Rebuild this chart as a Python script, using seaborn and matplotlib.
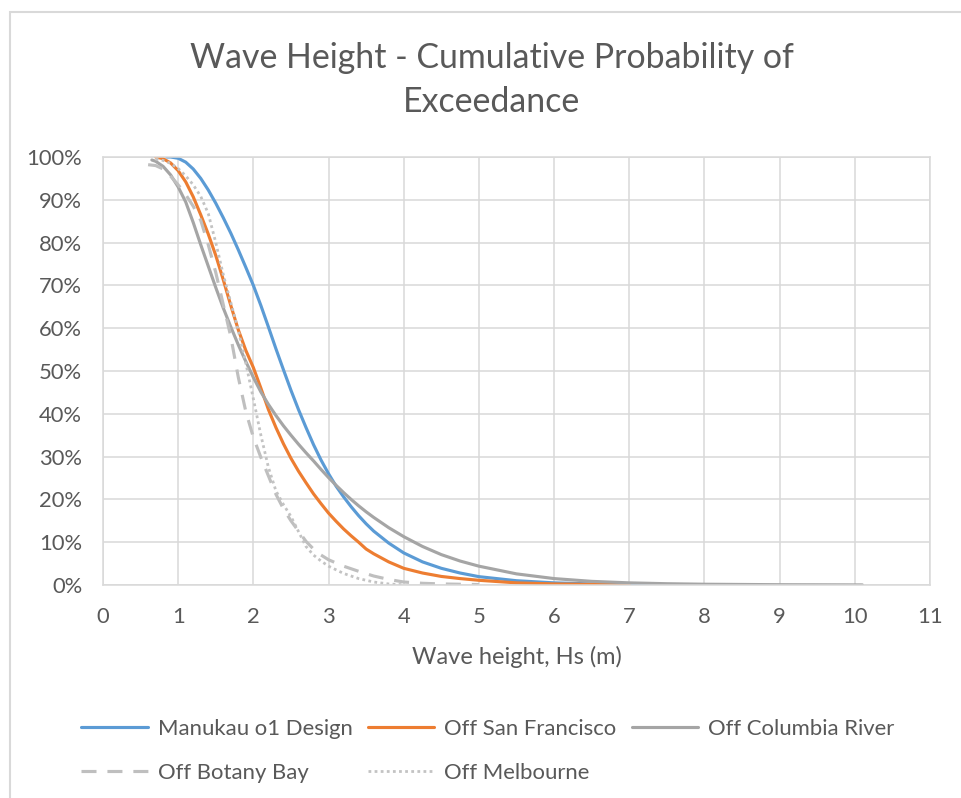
import matplotlib
matplotlib.use("Agg")
import matplotlib.pyplot as plt
from matplotlib.ticker import PercentFormatter
from matplotlib.patches import Rectangle
import pandas as pd
import seaborn as sns

# Significant wave height Hs (m) and probability of exceedance (%)
manukau_hs = [0.85, 0.9, 1.0, 1.1, 1.2, 1.3, 1.4, 1.5, 1.6, 1.7, 1.8, 1.9, 2.0, 2.1,
              2.2, 2.3, 2.4, 2.5, 2.6, 2.7, 2.8, 2.9, 3.0, 3.1, 3.2, 3.3, 3.4, 3.5,
              3.6, 3.8, 4.0, 4.25, 4.5, 4.75, 5.0, 5.5, 6.0, 6.5, 7.0, 8.0]
manukau_p = [100, 100, 99.7, 98.8, 97.2, 95.0, 92.3, 89.2, 85.8, 82.2, 78.3, 74.2, 70.0, 65.3,
             60.3, 55.2, 50.3, 45.5, 41.0, 36.8, 32.8, 29.2, 26.0, 23.1, 20.6, 18.3, 16.2, 14.3,
             12.6, 9.8, 7.5, 5.4, 3.9, 2.8, 1.95, 1.0, 0.5, 0.25, 0.12, 0.03]

sanfran_hs = [0.7, 0.8, 0.9, 1.0, 1.1, 1.2, 1.3, 1.4, 1.5, 1.6, 1.7, 1.8, 1.9, 2.0,
              2.1, 2.2, 2.3, 2.4, 2.5, 2.6, 2.7, 2.8, 2.9, 3.0, 3.1, 3.2, 3.3, 3.4,
              3.5, 3.6, 3.8, 4.0, 4.25, 4.5, 4.75, 5.0, 5.5, 6.0, 7.0]
sanfran_p = [100, 99.6, 98.6, 96.8, 94.2, 90.7, 86.5, 82.0, 77.0, 71.3, 65.3, 59.6, 54.8, 50.8,
             46.0, 41.0, 36.8, 33.0, 29.6, 26.6, 23.9, 21.3, 19.0, 16.8, 14.9, 13.1, 11.5, 10.0,
             8.4, 7.3, 5.4, 3.9, 2.8, 2.0, 1.5, 1.1, 0.5, 0.25, 0.05]

columbia_hs = [0.65, 0.7, 0.8, 0.9, 1.0, 1.1, 1.2, 1.3, 1.4, 1.5, 1.6, 1.7, 1.8, 1.9,
               2.0, 2.1, 2.2, 2.3, 2.4, 2.5, 2.6, 2.7, 2.8, 2.9, 3.0, 3.1, 3.2, 3.3,
               3.4, 3.5, 3.6, 3.8, 4.0, 4.25, 4.5, 4.75, 5.0, 5.5, 6.0, 6.5, 7.0, 7.5,
               8.0, 9.0, 10.1]
columbia_p = [99.3, 99.0, 97.8, 95.8, 93.0, 89.5, 84.7, 79.5, 74.5, 69.5, 64.7, 60.3, 56.1, 52.2,
              48.5, 45.1, 42.2, 39.6, 37.2, 35.0, 32.9, 30.9, 29.0, 27.0, 25.1, 23.3, 21.6, 20.0,
              18.5, 17.1, 15.8, 13.4, 11.3, 9.0, 7.1, 5.6, 4.4, 2.6, 1.5, 0.85, 0.5, 0.3,
              0.18, 0.07, 0.02]

botany_hs = [0.6, 0.7, 0.8, 0.9, 1.0, 1.1, 1.2, 1.3, 1.4, 1.5, 1.6, 1.7, 1.8, 1.9,
             2.0, 2.1, 2.2, 2.3, 2.4, 2.5, 2.6, 2.7, 2.8, 2.9, 3.0, 3.2, 3.4, 3.6,
             3.8, 4.0, 4.25, 4.5, 5.0]
botany_p = [98.2, 98.0, 97.2, 95.5, 93.5, 91.2, 88.5, 85.2, 79.5, 73.0, 65.5, 58.0, 48.5, 40.5,
            34.5, 29.8, 25.5, 21.2, 17.8, 15.0, 12.6, 10.2, 8.4, 7.0, 5.9, 4.4, 3.2, 2.1,
            1.3, 0.7, 0.4, 0.25, 0.1]

melbourne_hs = [0.7, 0.8, 0.9, 1.0, 1.1, 1.2, 1.3, 1.4, 1.5, 1.6, 1.7, 1.8, 1.9, 2.0,
                2.1, 2.2, 2.3, 2.4, 2.5, 2.6, 2.7, 2.8, 2.9, 3.0, 3.2, 3.4, 3.6, 3.8, 4.0]
melbourne_p = [99.5, 99.2, 98.5, 97.3, 95.6, 93.5, 90.8, 86.8, 80.0, 72.5, 66.0, 59.5, 51.8, 43.5,
               35.0, 27.5, 22.0, 18.8, 16.0, 12.5, 9.0, 7.0, 5.6, 4.4, 2.7, 1.5, 0.7, 0.25, 0.05]

series_names = ["Manukau o1 Design", "Off San Francisco", "Off Columbia River",
                "Off Botany Bay", "Off Melbourne"]
x_ticks = list(range(0, 12))
y_ticks = list(range(0, 101, 10))

frames = []
for name, hs, p in zip(series_names,
                       [manukau_hs, sanfran_hs, columbia_hs, botany_hs, melbourne_hs],
                       [manukau_p, sanfran_p, columbia_p, botany_p, melbourne_p]):
    frames.append(pd.DataFrame({"Hs": hs, "P": p, "series": name}))
df = pd.concat(frames, ignore_index=True)

sns.set_theme(style="white")
plt.rcParams["font.family"] = ["Lato", "DejaVu Sans"]

styles = {
    "Manukau o1 Design": dict(color="#5B9BD5", linestyle="-", linewidth=2.25),
    "Off San Francisco": dict(color="#ED7D31", linestyle="-", linewidth=2.25),
    "Off Columbia River": dict(color="#A5A5A5", linestyle="-", linewidth=2.25),
    "Off Botany Bay": dict(color="#BFBFBF", linestyle=(0, (4.8, 3.5)), linewidth=2.25),
    "Off Melbourne": dict(color="#C3C3C3", linestyle=(0, (1.0, 1.2)), linewidth=2.0),
}

fig = plt.figure(figsize=(9.62, 7.98), dpi=100)
ax = fig.add_axes([103 / 962, 1 - 585 / 798, (930 - 103) / 962, (585 - 157) / 798])

for name in series_names:
    sub = df[df["series"] == name]
    sns.lineplot(data=sub, x="Hs", y="P", ax=ax, sort=False, label=name,
                 solid_capstyle="round", solid_joinstyle="round",
                 dash_capstyle="butt", **styles[name])

text_color = "#595959"
grid_color = "#D9D9D9"

ax.set_xlim(0, 11)
ax.set_ylim(0, 100)
ax.set_xticks(x_ticks)
ax.set_yticks(y_ticks)
ax.yaxis.set_major_formatter(PercentFormatter(100, decimals=0))
ax.grid(True, color=grid_color, linewidth=1.1)
ax.set_axisbelow(True)
for s in ax.spines.values():
    s.set_color(grid_color)
    s.set_linewidth(1.1)
ax.tick_params(axis="both", length=0, labelsize=15.8, labelcolor=text_color)
ax.tick_params(axis="x", pad=15.5)
ax.tick_params(axis="y", pad=15)
ax.set_xlabel("Wave height, Hs (m)", fontsize=17, color=text_color, labelpad=14)
ax.set_ylabel("")

fig.text(492 / 962, 1 - 80 / 798, "Wave Height - Cumulative Probability of\nExceedance",
         ha="center", va="center", fontsize=24.4, color=text_color, linespacing=1.47)

# legend laid out row by row: fill order is column-major
handles, labels = ax.get_legend_handles_labels()
order = [0, 3, 1, 4, 2]
ax.legend([handles[i] for i in order], [labels[i] for i in order], ncol=3,
          loc="center", bbox_to_anchor=(488 / 962, 1 - 751 / 798),
          bbox_transform=fig.transFigure, frameon=False, fontsize=15.9,
          labelcolor=text_color, handlelength=3.0, handletextpad=0.45,
          columnspacing=0.71, labelspacing=1.1)

# chart area outline
fig.patches.append(Rectangle((10 / 962, -0.1), 1.2, 1 - 12 / 798 + 0.1,
                             transform=fig.transFigure, fill=False,
                             edgecolor="#D9D9D9", linewidth=1.5))

fig.savefig("out.png", dpi=100, facecolor="white")
